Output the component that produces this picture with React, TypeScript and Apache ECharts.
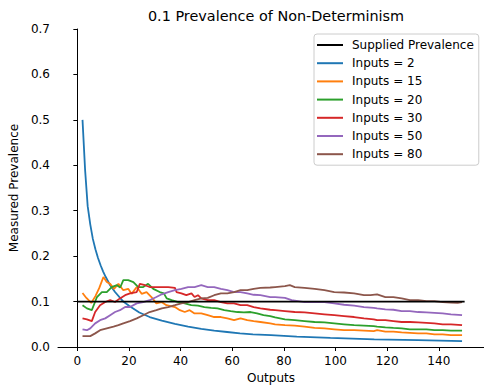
import React, { useEffect, useRef } from "react";
import * as echarts from "echarts";

const title = "0.1 Prevalence of Non-Determinism";
const xTicks = [0, 20, 40, 60, 80, 100, 120, 140];
const seriesNames = ["Supplied Prevalence", "Inputs = 2", "Inputs = 15", "Inputs = 20", "Inputs = 30", "Inputs = 50", "Inputs = 80"];

const supplied: number[][] = [[0, 0.1], [150, 0.1]];

const inputs2: number[][] = [
  [2, 0.5], [3, 0.39], [4, 0.31], [5, 0.27], [6, 0.238], [7, 0.215], [8, 0.196], [9, 0.18], [10, 0.166], [11, 0.154],
  [12.7, 0.136], [14.6, 0.121], [17.8, 0.1], [20, 0.091], [24, 0.076], [28, 0.066], [32.7, 0.058], [37.8, 0.051],
  [42.9, 0.045], [48, 0.04], [53, 0.036], [58, 0.033], [63, 0.03], [68, 0.028], [75, 0.026], [85, 0.023], [98, 0.02],
  [115, 0.017], [132, 0.015], [149, 0.013],
];

const inputs15: number[][] = [
  [2, 0.119], [3.5, 0.108], [5.4, 0.097], [7, 0.112], [8.5, 0.13], [10.1, 0.154], [11.4, 0.143], [12.7, 0.139],
  [14.2, 0.128], [15.9, 0.139], [17.8, 0.125], [19.7, 0.128], [21, 0.117], [23, 0.132], [24.9, 0.117], [26.8, 0.121],
  [28.7, 0.11], [30.6, 0.096], [32.6, 0.099], [34.5, 0.092], [37.8, 0.088], [39.7, 0.081], [41.6, 0.077], [43.5, 0.081],
  [45.4, 0.074], [48, 0.074], [50.5, 0.07], [53, 0.066], [55.6, 0.066], [58.1, 0.063], [60.7, 0.059], [63.2, 0.063],
  [65.8, 0.059], [68.3, 0.057], [70.9, 0.055], [74.7, 0.052], [76.6, 0.05], [80.4, 0.048], [84.2, 0.047], [88, 0.045],
  [91.9, 0.042], [95.7, 0.041], [99.5, 0.039], [103.3, 0.037], [107.2, 0.037], [111, 0.036], [114.8, 0.035],
  [116.1, 0.037], [119.3, 0.034], [122.4, 0.034], [125.6, 0.032], [128.8, 0.031], [132, 0.03], [135.2, 0.03],
  [138.3, 0.028], [141.5, 0.028], [144.7, 0.026], [149, 0.026],
];

const inputs20: number[][] = [
  [2, 0.092], [3.7, 0.085], [5.6, 0.081], [7.6, 0.11], [9.5, 0.121], [11.4, 0.121], [13.3, 0.132], [15.3, 0.136],
  [16.6, 0.131], [17.8, 0.147], [19.7, 0.147], [21.7, 0.143], [23.6, 0.132], [25.5, 0.132], [27.4, 0.139], [29.4, 0.128],
  [31.9, 0.121], [33.5, 0.118], [34.6, 0.107], [36.5, 0.103], [39.1, 0.099], [41.6, 0.096], [44.1, 0.092], [46.7, 0.091],
  [49.2, 0.088], [51.8, 0.086], [54.3, 0.085], [56.9, 0.081], [59.4, 0.079], [62, 0.077], [64.5, 0.076], [67.1, 0.077],
  [69.6, 0.074], [72.1, 0.07], [74.7, 0.068], [76.6, 0.065], [80.4, 0.061], [84.2, 0.059], [88, 0.057], [91.9, 0.055],
  [95.7, 0.054], [99.5, 0.052], [103.3, 0.05], [107.2, 0.048], [111, 0.047], [114.8, 0.046], [116.1, 0.045],
  [119.3, 0.043], [122.4, 0.042], [125.6, 0.041], [128.8, 0.039], [132, 0.039], [135.2, 0.039], [138.3, 0.037],
  [141.5, 0.037], [144.7, 0.036], [149, 0.036],
];

const inputs30: number[][] = [
  [2, 0.063], [3.7, 0.061], [5.6, 0.057], [6.9, 0.077], [8.8, 0.092], [10.8, 0.099], [12.7, 0.103], [14.6, 0.099],
  [16.5, 0.107], [18.5, 0.114], [20.4, 0.118], [23, 0.121], [24.2, 0.139], [26.2, 0.136], [28, 0.132], [30.6, 0.132],
  [32.7, 0.132], [35.2, 0.132], [37.8, 0.13], [38.4, 0.121], [40.3, 0.118], [42.2, 0.114], [44.2, 0.118], [45.4, 0.11],
  [46.7, 0.114], [48, 0.107], [50.5, 0.103], [53, 0.103], [55.6, 0.099], [58.1, 0.096], [60.7, 0.096], [63.2, 0.092],
  [65.8, 0.092], [68.3, 0.088], [70.9, 0.085], [74.7, 0.082], [76.6, 0.081], [80.4, 0.079], [84.2, 0.077], [88, 0.076],
  [91.9, 0.074], [95.7, 0.072], [99.5, 0.07], [103.3, 0.068], [107.2, 0.066], [111, 0.063], [114.8, 0.061],
  [116.1, 0.059], [119.3, 0.059], [122.4, 0.057], [125.6, 0.055], [128.8, 0.055], [132, 0.054], [135.2, 0.053],
  [138.3, 0.052], [141.5, 0.05], [144.7, 0.05], [149, 0.048],
];

const inputs50: number[][] = [
  [2, 0.039], [3.7, 0.037], [5, 0.041], [6.9, 0.052], [8.8, 0.059], [10.8, 0.063], [12.7, 0.07], [14.6, 0.077],
  [16.5, 0.081], [18.5, 0.088], [20.4, 0.088], [23, 0.096], [25.5, 0.099], [28, 0.103], [30.6, 0.11], [32.7, 0.116],
  [35.2, 0.121], [37.8, 0.125], [40.3, 0.128], [42.9, 0.132], [45.4, 0.132], [48, 0.136], [50.5, 0.132], [53, 0.132],
  [55.6, 0.128], [58.1, 0.125], [60.7, 0.121], [63.2, 0.121], [65.8, 0.118], [68.3, 0.115], [70.9, 0.114], [74.7, 0.11],
  [76.6, 0.11], [80.4, 0.108], [83, 0.103], [85.5, 0.101], [88, 0.099], [91.9, 0.099], [95.7, 0.099], [99.5, 0.096],
  [103.3, 0.093], [107.2, 0.091], [111, 0.088], [114.8, 0.086], [116.1, 0.085], [119.3, 0.083], [122.4, 0.082],
  [125.6, 0.079], [128.8, 0.079], [132, 0.077], [135.2, 0.076], [138.3, 0.075], [141.5, 0.074], [144.7, 0.072],
  [149, 0.07],
];

const inputs80: number[][] = [
  [2, 0.024], [5, 0.024], [6.9, 0.03], [8.8, 0.037], [11.4, 0.041], [14, 0.045], [15.9, 0.048], [17.8, 0.052],
  [20.4, 0.057], [23, 0.063], [25.5, 0.07], [28, 0.077], [30.6, 0.081], [32.7, 0.085], [35.2, 0.088], [37.8, 0.092],
  [40.3, 0.096], [42.9, 0.099], [45.4, 0.103], [48, 0.107], [50.5, 0.108], [53, 0.114], [55.6, 0.118], [58.1, 0.118],
  [60.7, 0.121], [63.2, 0.125], [65.8, 0.125], [68.3, 0.128], [70.9, 0.13], [74.7, 0.131], [76.6, 0.132], [80.4, 0.134],
  [82.3, 0.136], [84.2, 0.132], [88, 0.13], [91.9, 0.128], [95.7, 0.125], [99.5, 0.121], [103.3, 0.12], [107.2, 0.118],
  [111, 0.114], [113.5, 0.114], [116.1, 0.116], [119.3, 0.11], [122.4, 0.11], [125.6, 0.107], [128.8, 0.103],
  [132, 0.103], [135.2, 0.101], [138.3, 0.101], [141.5, 0.099], [144.7, 0.098], [147.3, 0.097], [149, 0.099],
];

const colors = ["#000000", "#1f77b4", "#ff7f0e", "#2ca02c", "#d62728", "#9467bd", "#8c564b"];
const allData = [supplied, inputs2, inputs15, inputs20, inputs30, inputs50, inputs80];

const FONT = "DejaVu Sans";

export default function App() {
  const ref = useRef<HTMLDivElement>(null);
  useEffect(() => {
    if (!ref.current) return;
    const chart = echarts.init(ref.current, undefined, { renderer: "svg" });
    chart.setOption({
      animation: false,
      backgroundColor: "#ffffff",
      title: {
        text: title,
        left: 271,
        top: 4,
        textAlign: "center",
        textStyle: { fontFamily: FONT, fontSize: 14.4, fontWeight: "normal", color: "#000" },
      },
      grid: { left: 55, top: 29, right: -3, bottom: 40, containLabel: false },
      legend: {
        orient: "vertical",
        left: 314,
        top: 34,
        padding: [4, 5, 4, 3],
        icon: "rect",
        itemWidth: 26,
        itemHeight: 2,
        itemGap: 4.2,
        borderColor: "#cccccc",
        borderWidth: 1,
        borderRadius: 3,
        backgroundColor: "rgba(255,255,255,0.8)",
        textStyle: { fontFamily: FONT, fontSize: 12, color: "#000", padding: [0, 0, 0, 4], lineHeight: 14 },
        data: seriesNames.map((name, i) => ({ name, itemStyle: { color: colors[i] } })),
      },
      xAxis: {
        type: "value",
        min: -7.5,
        max: 157.5,
        name: "Outputs",
        nameLocation: "middle",
        nameGap: 25,
        nameTextStyle: { fontFamily: FONT, fontSize: 12, color: "#000" },
        splitLine: { show: false },
        axisLine: { show: true, onZero: false, lineStyle: { color: "#000", width: 1 } },
        axisTick: { show: true, inside: false, length: 4, customValues: xTicks, lineStyle: { color: "#000", width: 1 } },
        axisLabel: { margin: 8, customValues: xTicks, fontFamily: FONT, fontSize: 12, color: "#000" },
      },
      yAxis: {
        type: "value",
        min: 0,
        max: 0.7,
        interval: 0.1,
        name: "Measured Prevalence",
        nameLocation: "middle",
        nameGap: 36,
        nameTextStyle: { fontFamily: FONT, fontSize: 12, color: "#000" },
        splitLine: { show: false },
        axisLine: { show: true, lineStyle: { color: "#000", width: 1 } },
        axisTick: { show: true, inside: false, length: 4, lineStyle: { color: "#000", width: 1 } },
        axisLabel: {
          margin: 8,
          fontFamily: FONT,
          fontSize: 12,
          color: "#000",
          formatter: (v: number) => v.toFixed(1),
        },
      },
      series: seriesNames.map((name, i) => ({
        name,
        type: "line",
        data: allData[i],
        showSymbol: false,
        symbol: "none",
        clip: true,
        z: i === 0 ? 3 : 2,
        lineStyle: { color: colors[i], width: 1.8 },
        itemStyle: { color: colors[i] },
      })),
    });
    return () => chart.dispose();
  }, []);
  return <div ref={ref} style={{ position: "fixed", left: 0, top: 0, width: 484, height: 389 }} />;
}
